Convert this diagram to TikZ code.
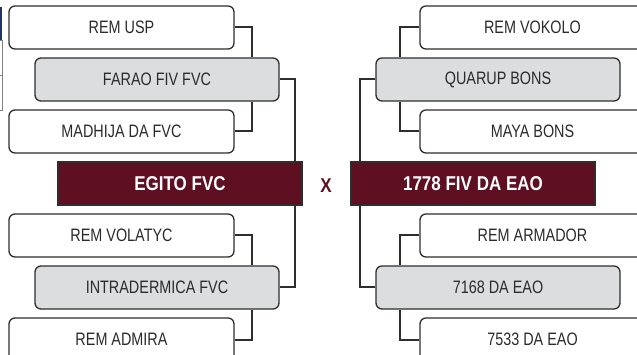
\documentclass[tikz,border=0pt]{standalone}
\usepackage{fontspec}
\setmainfont{Liberation Sans}[FakeStretch=0.8]
\newfontfamily\headfont{Liberation Sans}[FakeStretch=0.85]
\usetikzlibrary{positioning}
\definecolor{teamred}{HTML}{5E0F22}
\definecolor{seedgrey}{HTML}{DCDDDF}
\definecolor{linegrey}{HTML}{2E2E2E}
\definecolor{textgrey}{HTML}{2B2B2B}
\definecolor{edgeblue}{HTML}{1F3566}

\begin{document}
\begin{tikzpicture}[
    x=1pt, y=-1pt,
    font=\fontsize{18}{20}\selectfont,
    plain/.style={draw=linegrey, line width=1.3pt, rounded corners=6pt, fill=white,
                  text=textgrey, minimum width=225pt, minimum height=43pt, inner sep=0pt},
    seed/.style={plain, fill=seedgrey, minimum width=244pt},
    team/.style={draw=linegrey, line width=1.3pt, fill=teamred, text=white,
                 minimum width=244pt, minimum height=43pt, inner sep=0pt,
                 font=\headfont\bfseries\fontsize{20}{22}\selectfont},
    link/.style={draw=linegrey, line width=2pt}]

  \useasboundingbox (0,0) rectangle (637,355);
  \clip (0,0) rectangle (637,355);

  % scrap of the page edge
  \fill[edgeblue] (0,7) rectangle (2.4,40);
  \draw[gray, line width=0.6pt] (0,40) -- (2,40) -- (2,110) -- (0,110);
  \draw[gray, line width=0.6pt] (0,75) -- (2,75);

  % left bracket
  \node[plain] (rem1) at (121.5,27.5) {REM USP};
  \node[seed]  (far1) at (157,79.5)   {FARAO FIV FVC};
  \node[plain] (mad1) at (121.5,131.5) {MADHIJA DA FVC};
  \node[team]  (egy)  at (180,183.5)  {EGITO FVC};
  \node[plain] (vol1) at (121.5,235.5) {REM VOLATYC};
  \node[seed]  (int1) at (157,287.5)  {INTRADERMICA FVC};
  \node[plain] (adm1) at (121.5,339.5) {REM ADMIRA};

  % right bracket
  \node[plain] (vok)  at (532.5,27.5) {REM VOKOLO};
  \node[seed]  (qua)  at (498,79.5)   {QUARUP BONS};
  \node[plain] (may)  at (532.5,131.5) {MAYA BONS};
  \node[team]  (eao)  at (473,183.5)  {1778 FIV DA EAO};
  \node[plain] (arm)  at (532.5,235.5) {REM ARMADOR};
  \node[seed]  (sev)  at (498,287.5)  {7168 DA EAO};
  \node[plain] (ssv)  at (532.5,339.5) {7533 DA EAO};

  \node[font=\headfont\bfseries\fontsize{20}{22}\selectfont, text=teamred] (vs) at (326,185.5) {X};

  \coordinate (li) at (252,0);
  \coordinate (lo) at (295,0);
  \coordinate (ro) at (360,0);
  \coordinate (ri) at (400,0);

  \foreach \a/\b/\c in {rem1.east/far1/li, vol1.east/int1/li, far1.east/egy/lo,
                        vok.west/qua/ri, arm.west/sev/ri, qua.west/eao/ro}
    \draw[link] (\a) -| (\c |- \b.north);
  \foreach \a/\b/\c in {mad1.east/far1/li, adm1.east/int1/li, int1.east/egy/lo,
                        may.west/qua/ri, ssv.west/sev/ri, sev.west/eao/ro}
    \draw[link] (\b.south -| \c) |- (\a);
\end{tikzpicture}
\end{document}
